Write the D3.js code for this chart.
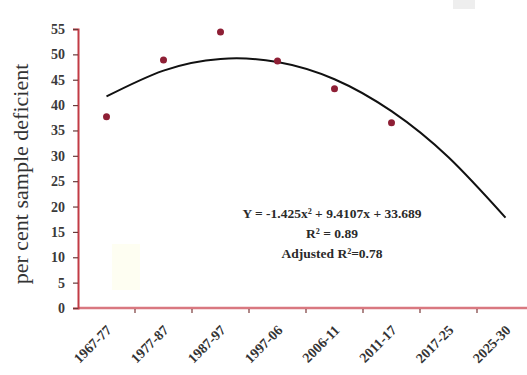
<!DOCTYPE html>
<html>
<head>
<meta charset="utf-8">
<script src="https://cdn.jsdelivr.net/npm/d3@7"></script>
<style>
  body { margin: 0; background: #fff; }
  svg { display: block; }
</style>
</head>
<body>
<script>
// values
var periods = ["1967-77", "1977-87", "1987-97", "1997-06", "2006-11", "2011-17", "2017-25", "2025-30"];
var observed = [37.7, 48.9, 54.4, 48.7, 43.2, 36.5];
// trend line values at each period (quadratic fit shown on the chart)
var trend = [41.7, 46.8, 49.1, 48.5, 45.1, 38.8, 29.7, 17.8];
var yTicks = [0, 5, 10, 15, 20, 25, 30, 35, 40, 45, 50, 55];
var eqLines = ["Y = -1.425x\u00B2 + 9.4107x + 33.689", "R\u00B2 = 0.89", "Adjusted R\u00B2=0.78"];

var width = 527,
	height = 375;

var serif = "'Liberation Serif', 'Times New Roman', serif";

var svg = d3.select("body").append("svg")
	.attr("width", width)
	.attr("height", height);

var x = d3.scaleBand().domain(periods).range([78, 534]).padding(0);
var y = d3.scaleLinear().domain([0, 55]).range([308, 29]);

// faint artifacts of the scan
svg.append("rect").attr("x", 112).attr("y", 244).attr("width", 28).attr("height", 46).attr("fill", "#fefef2");
svg.append("rect").attr("x", 453).attr("y", 0).attr("width", 22).attr("height", 9).attr("fill", "#eeeeee");

// x axis
var xAxis = svg.append("g").attr("transform", "translate(0," + y(0) + ")")
	.call(d3.axisBottom(x).tickSize(0));
xAxis.select(".domain").remove();
xAxis.append("line")
	.attr("x1", 78).attr("x2", width)
	.attr("stroke", "#d97880").attr("stroke-width", 2.5);
xAxis.selectAll(".tick text")
	.attr("font-family", serif)
	.attr("font-weight", "bold")
	.attr("font-size", 14)
	.attr("fill", "#333")
	.attr("text-anchor", "end")
	.attr("dy", null)
	.attr("y", 0)
	.attr("transform", "translate(6,23) rotate(-45)");

// boundary tick marks between periods
xAxis.selectAll(".btick")
	.data(periods.slice(1))
	.enter().append("line")
	.attr("class", "btick")
	.attr("x1", function(d) { return x(d); })
	.attr("x2", function(d) { return x(d); })
	.attr("y1", 1).attr("y2", 5)
	.attr("stroke", "#7a3a3a").attr("stroke-width", 1.2);

// y axis
var yAxis = svg.append("g").attr("transform", "translate(78,0)")
	.call(d3.axisLeft(y).tickValues(yTicks).tickSize(5).tickPadding(8));
yAxis.select(".domain").attr("stroke", "#c23b45").attr("stroke-width", 2);
yAxis.selectAll(".tick line").attr("stroke", "#6a3a3a").attr("stroke-width", 1.2);
yAxis.selectAll(".tick text")
	.attr("font-family", serif)
	.attr("font-weight", "bold")
	.attr("font-size", 14)
	.attr("fill", "#3a3a3a");

svg.append("text")
	.attr("transform", "translate(28," + 174 + ") rotate(-90)")
	.attr("text-anchor", "middle")
	.attr("font-family", serif)
	.attr("font-size", 22)
	.attr("fill", "#333")
	.text("per cent sample deficient");

// trend curve
var line = d3.line()
	.x(function(d, i) { return x(periods[i]) + x.bandwidth() / 2; })
	.y(function(d) { return y(d); })
	.curve(d3.curveNatural);

svg.append("path")
	.datum(trend)
	.attr("d", line)
	.attr("fill", "none")
	.attr("stroke", "#111")
	.attr("stroke-width", 2);

// observed points
svg.selectAll(".pt")
	.data(observed)
	.enter().append("circle")
	.attr("class", "pt")
	.attr("cx", function(d, i) { return x(periods[i]) + x.bandwidth() / 2; })
	.attr("cy", function(d) { return y(d); })
	.attr("r", 3.5)
	.attr("fill", "#8e1f35");

// equation
svg.selectAll(".eq")
	.data(eqLines)
	.enter().append("text")
	.attr("class", "eq")
	.attr("x", 332)
	.attr("y", function(d, i) { return 218 + i * 20; })
	.attr("text-anchor", "middle")
	.attr("font-family", serif)
	.attr("font-weight", "bold")
	.attr("font-size", 13.5)
	.attr("fill", "#2a2a2a")
	.text(function(d) { return d; });
</script>
</body>
</html>
